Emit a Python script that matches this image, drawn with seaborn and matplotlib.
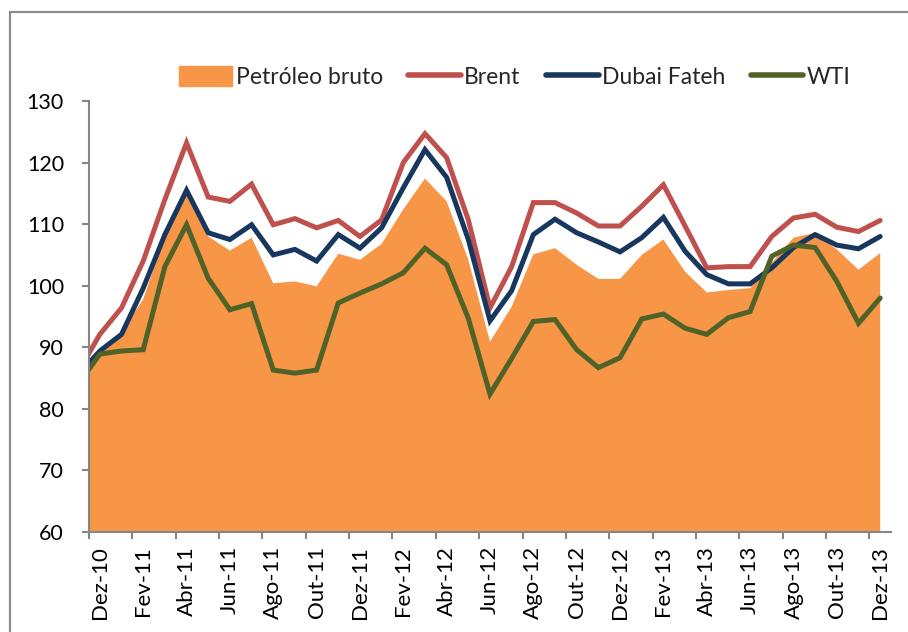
import numpy as np
import pandas as pd
import matplotlib
matplotlib.use("Agg")
import matplotlib.pyplot as plt
import matplotlib.patches as mpatches
from matplotlib.lines import Line2D
import seaborn as sns

# monthly prices, Nov-10 (clipped at the left edge) .. Dez-13
months = ["Nov-10", "Dez-10",
          "Jan-11", "Fev-11", "Mar-11", "Abr-11", "Mai-11", "Jun-11",
          "Jul-11", "Ago-11", "Set-11", "Out-11", "Nov-11", "Dez-11",
          "Jan-12", "Fev-12", "Mar-12", "Abr-12", "Mai-12", "Jun-12",
          "Jul-12", "Ago-12", "Set-12", "Out-12", "Nov-12", "Dez-12",
          "Jan-13", "Fev-13", "Mar-13", "Abr-13", "Mai-13", "Jun-13",
          "Jul-13", "Ago-13", "Set-13", "Out-13", "Nov-13", "Dez-13"]

petroleo = [84.5, 89.8, 92.5, 97.8, 108.0, 115.0, 108.0, 105.7, 107.8, 100.4,
            100.7, 99.9, 105.2, 104.2, 106.8, 112.4, 117.4, 113.7, 104.2, 90.9,
            96.6, 105.1, 106.1, 103.4, 101.1, 101.1, 105.0, 107.5, 102.3, 98.9,
            99.3, 99.6, 103.7, 107.8, 108.6, 105.9, 102.6, 105.3]

brent = [86.0, 92.1, 96.4, 104.0, 114.0, 123.2, 114.4, 113.7, 116.5, 109.9,
         110.9, 109.4, 110.6, 108.0, 110.7, 120.0, 124.7, 120.8, 110.7, 96.4,
         103.1, 113.5, 113.5, 111.8, 109.7, 109.7, 112.9, 116.4, 109.7, 102.9,
         103.1, 103.1, 108.0, 111.0, 111.6, 109.5, 108.8, 110.6]

dubai = [85.5, 89.4, 92.1, 99.6, 108.3, 115.5, 108.6, 107.5, 109.9, 105.0,
         105.9, 104.0, 108.3, 106.1, 109.4, 115.9, 122.1, 117.6, 107.5, 94.3,
         99.2, 108.3, 110.8, 108.6, 107.1, 105.5, 107.8, 111.1, 105.6, 101.8,
         100.3, 100.3, 102.9, 106.2, 108.3, 106.6, 106.0, 108.0]

wti = [84.0, 88.9, 89.4, 89.6, 103.1, 109.9, 101.2, 96.1, 97.1, 86.3,
       85.8, 86.3, 97.2, 98.8, 100.3, 102.1, 106.1, 103.4, 94.7, 82.4,
       88.2, 94.2, 94.5, 89.6, 86.7, 88.3, 94.6, 95.4, 93.1, 92.1,
       94.8, 95.8, 104.8, 106.6, 106.2, 100.7, 93.9, 98.0]

tick_labels = months[1::2]

sns.set_theme(style="white")
plt.rcParams['font.family'] = ['Lato', 'DejaVu Sans']

df = pd.DataFrame({'x': np.arange(len(months)) - 1,
                   'Petróleo bruto': petroleo, 'Brent': brent,
                   'Dubai Fateh': dubai, 'WTI': wti})

c_area = '#F79646'
c_brent = '#C0504D'
c_dubai = '#17375E'
c_wti = '#4F6228'
grey = '#868686'

fig = plt.figure(figsize=(9.08, 6.32), dpi=100)
ax = fig.add_axes([89 / 908, 1 - 532 / 632, (891 - 89) / 908, (532 - 101) / 632])

ax.fill_between(df['x'], 0, df['Petróleo bruto'], color=c_area, lw=0)
for col, c in [('Brent', c_brent), ('Dubai Fateh', c_dubai), ('WTI', c_wti)]:
    sns.lineplot(data=df, x='x', y=col, color=c, lw=3.6, ax=ax,
                 solid_joinstyle='miter')

ax.set_xlim(-0.5, 36.5)
ax.set_ylim(60, 130)
ax.set_yticks(range(60, 131, 10))
ax.set_xticks(np.arange(-0.5, 36, 2))
ax.set_xticklabels([])
ax.set_xticks(np.arange(0, 37, 2), minor=True)
ax.set_xticklabels(tick_labels, minor=True, rotation=90)
ax.set_xlabel('')
ax.set_ylabel('')

for s in ['top', 'right']:
    ax.spines[s].set_visible(False)
for s in ['left', 'bottom']:
    ax.spines[s].set_color(grey)
    ax.spines[s].set_linewidth(1.5)

ax.tick_params(axis='y', which='major', direction='out', length=5, width=1.5,
               color=grey, left=True, pad=13, labelsize=15.5, labelcolor='black')
ax.tick_params(axis='x', which='major', direction='out', length=5, width=1.5,
               color=grey, bottom=True)
ax.tick_params(axis='x', which='minor', length=0, pad=10, labelsize=16,
               labelcolor='black')

handles = [mpatches.Patch(color=c_area, label='Petróleo bruto'),
           Line2D([], [], color=c_brent, lw=4, label='Brent'),
           Line2D([], [], color=c_dubai, lw=4, label='Dubai Fateh'),
           Line2D([], [], color=c_wti, lw=4, label='WTI')]
fig.legend(handles=handles, loc='center', bbox_to_anchor=(515 / 908, 1 - 77 / 632),
           ncol=4, frameon=False, fontsize=16.5, handlelength=2.3,
           handleheight=1.0, handletextpad=0.15, columnspacing=1.1)

# outer chart border (cut off at right and bottom)
fig.patches.append(mpatches.Rectangle((10 / 908, -0.5), 2, 1.5 - 12 / 632,
                                      transform=fig.transFigure, fill=False,
                                      edgecolor='#8C8C8C', lw=1.6))

fig.savefig('out.png', dpi=100)
